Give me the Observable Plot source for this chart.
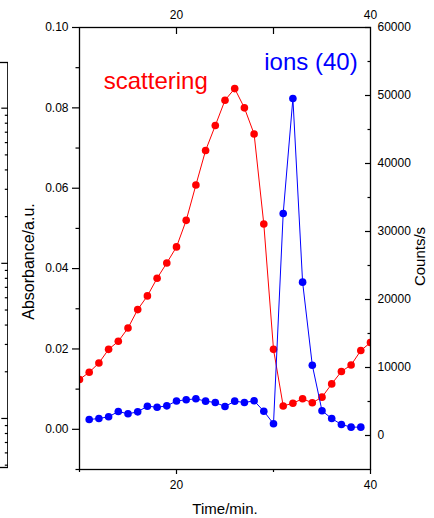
<!DOCTYPE html>
<html>
<head>
<meta charset="utf-8">
<script src="https://cdn.jsdelivr.net/npm/d3@7"></script>
<script src="https://cdn.jsdelivr.net/npm/@observablehq/plot@0.6"></script>
<style>
  html, body { margin: 0; padding: 0; background: #fff; }
  #wrap { position: relative; width: 434px; height: 518px; overflow: hidden; }
  #wrap svg { position: absolute; top: 0; }
</style>
</head>
<body>
<div id="wrap"></div>
<script>
// Elution time (min) of each scattering reading
const scatterTime = [10, 11, 12, 13, 14, 15, 16, 17, 18, 19, 20, 21, 22, 23, 24, 25,
                     26, 27, 28, 29, 30, 31, 32, 33, 34, 35, 36, 37, 38, 39, 40];
// Light-scattering absorbance (a.u.), left axis
const scatterAbs = [0.0124, 0.0142, 0.0165, 0.0199, 0.0219, 0.0252, 0.0298, 0.0332,
                    0.0376, 0.0414, 0.0454, 0.0520, 0.0608, 0.0694, 0.0756, 0.0819,
                    0.0848, 0.0800, 0.0735, 0.0511, 0.0199, 0.0058, 0.0065, 0.0076,
                    0.0066, 0.0080, 0.0113, 0.0144, 0.0160, 0.0196, 0.0216];

// Elution time (min) of each ion-count reading
const ionTime = [11, 12, 13, 14, 15, 16, 17, 18, 19, 20, 21, 22, 23, 24, 25,
                 26, 27, 28, 29, 30, 31, 32, 33, 34, 35, 36, 37, 38, 39];
// Ion signal, mass 40 (counts/s), right axis
const ionCounts = [2350, 2500, 2750, 3530, 3190, 3480, 4310, 4160, 4360, 5080,
                   5250, 5400, 5050, 4850, 4260, 5050, 4850, 5100, 3570, 1720,
                   32650, 49560, 22550, 10340, 3630, 2500, 1620, 1230, 1230];

// Axis ticks
const timeTicks = [20, 40];
const timeMinorTicks = [10, 30];
const absTicks = [0, 0.02, 0.04, 0.06, 0.08, 0.10];
const absMinorTicks = [-0.01, 0.01, 0.03, 0.05, 0.07, 0.09];
const countTicks = [0, 10000, 20000, 30000, 40000, 50000, 60000];
const countMinorTicks = [5000, 15000, 25000, 35000, 45000, 55000];

// Both vertical axes share one pixel range
const absDomain = [-0.01, 0.10];
const countDomain = [-5000, 60000];
const toAbs = d3.scaleLinear().domain(countDomain).range(absDomain);

const scatterData = scatterTime.map((t, i) => ({t, v: scatterAbs[i]}));
const ionData = ionTime.map((t, i) => ({t, v: toAbs(ionCounts[i])}));

const RED = "#ff0000", BLUE = "#0000ff";
const font = "'Liberation Sans', Arial, Helvetica, sans-serif";

const chart = Plot.plot({
  width: 434,
  height: 518,
  marginLeft: 79,
  marginRight: 64,
  marginTop: 27,
  marginBottom: 49,
  style: {fontFamily: font, fontSize: "12px", color: "#000", background: "transparent"},
  x: {domain: [10, 40]},
  y: {domain: absDomain},
  marks: [
    // scattering trace
    Plot.line(scatterData, {x: "t", y: "v", stroke: RED, strokeWidth: 1, clip: true}),
    Plot.dot(scatterData, {x: "t", y: "v", r: 3.8, fill: RED, clip: true}),
    // ion trace
    Plot.line(ionData, {x: "t", y: "v", stroke: BLUE, strokeWidth: 1, clip: true}),
    Plot.dot(ionData, {x: "t", y: "v", r: 3.8, fill: BLUE, clip: true}),

    Plot.frame({stroke: "#000", strokeWidth: 1.3}),

    // left axis: absorbance
    Plot.axisY(absTicks, {anchor: "left", tickSize: 7, tickPadding: 4, tickFormat: d3.format(".2f"), label: null, strokeWidth: 1.2}),
    Plot.axisY(absMinorTicks, {anchor: "left", tickSize: 3.5, fill: "none", label: null, strokeWidth: 1.2}),

    // right axis: counts/s (inward ticks)
    Plot.axisY(countTicks.map(toAbs), {anchor: "right", tickSize: -6, fill: "none", label: null, strokeWidth: 1.2}),
    Plot.axisY(countMinorTicks.map(toAbs), {anchor: "right", tickSize: -3.5, fill: "none", label: null, strokeWidth: 1.2}),
    Plot.axisY(countTicks.map(toAbs), {anchor: "right", tickSize: 0, tickPadding: 7, label: null,
      tickFormat: d => String(Math.round(toAbs.invert(d)))}),

    // bottom axis: time
    Plot.axisX(timeTicks, {anchor: "bottom", tickSize: 5, tickPadding: 6, label: null, strokeWidth: 1.2}),
    Plot.axisX(timeMinorTicks, {anchor: "bottom", tickSize: 3, fill: "none", label: null, strokeWidth: 1.2}),

    // top axis: time (inward ticks)
    Plot.axisX([...timeTicks.slice(0, 1), ...timeMinorTicks.slice(1)], {anchor: "top", tickSize: -6, fill: "none", label: null, strokeWidth: 1.2}),
    Plot.axisX(timeTicks, {anchor: "top", tickSize: 0, tickPadding: 9, label: null}),

    // axis titles
    Plot.text(["Absorbance/a.u."], {frameAnchor: "left", rotate: -90, textAnchor: "middle", lineAnchor: "top", dx: -57, dy: 13, fontSize: 16, fill: "#000"}),
    Plot.text(["Counts/s"], {frameAnchor: "right", rotate: -90, textAnchor: "middle", lineAnchor: "bottom", dx: 54, dy: 8, fontSize: 15, fill: "#000"}),
    Plot.text(["Time/min."], {frameAnchor: "bottom", textAnchor: "middle", lineAnchor: "bottom", dy: 44, fontSize: 15, fill: "#000"}),

    // series names
    Plot.text(["scattering"], {x: () => 12.5, y: () => 0.0847, textAnchor: "start", lineAnchor: "bottom", fontSize: 24, fill: RED}),
    Plot.text(["ions (40)"], {x: () => 29.05, y: () => 0.0894, textAnchor: "start", lineAnchor: "bottom", fontSize: 24, fill: BLUE})
  ]
});

// Edge of the neighbouring panel (log-scaled right axis, inward ticks)
const sideMajor = [1, 10, 100];
const sideMinor = [0.5, 0.6, 0.7, 0.8, 0.9,
                   2, 3, 4, 5, 6, 7, 8, 9,
                   20, 30, 40, 50, 60, 70, 80, 90];
const side = Plot.plot({
  width: 108,
  height: 518,
  marginLeft: 0,
  marginRight: 0.7,
  marginTop: 62,
  marginBottom: 51,
  style: {background: "transparent"},
  y: {type: "log", domain: [0.483, 197]},
  marks: [
    Plot.frame({stroke: "#000", strokeWidth: 1.3}),
    Plot.axisY(sideMajor, {anchor: "right", tickSize: -7, fill: "none", label: null, strokeWidth: 1.2}),
    Plot.axisY(sideMinor, {anchor: "right", tickSize: -3.5, fill: "none", label: null, strokeWidth: 1.2})
  ]
});
side.style.left = "-100px";
chart.style.left = "0px";

const wrap = document.getElementById("wrap");
wrap.appendChild(side);
wrap.appendChild(chart);
</script>
</body>
</html>
